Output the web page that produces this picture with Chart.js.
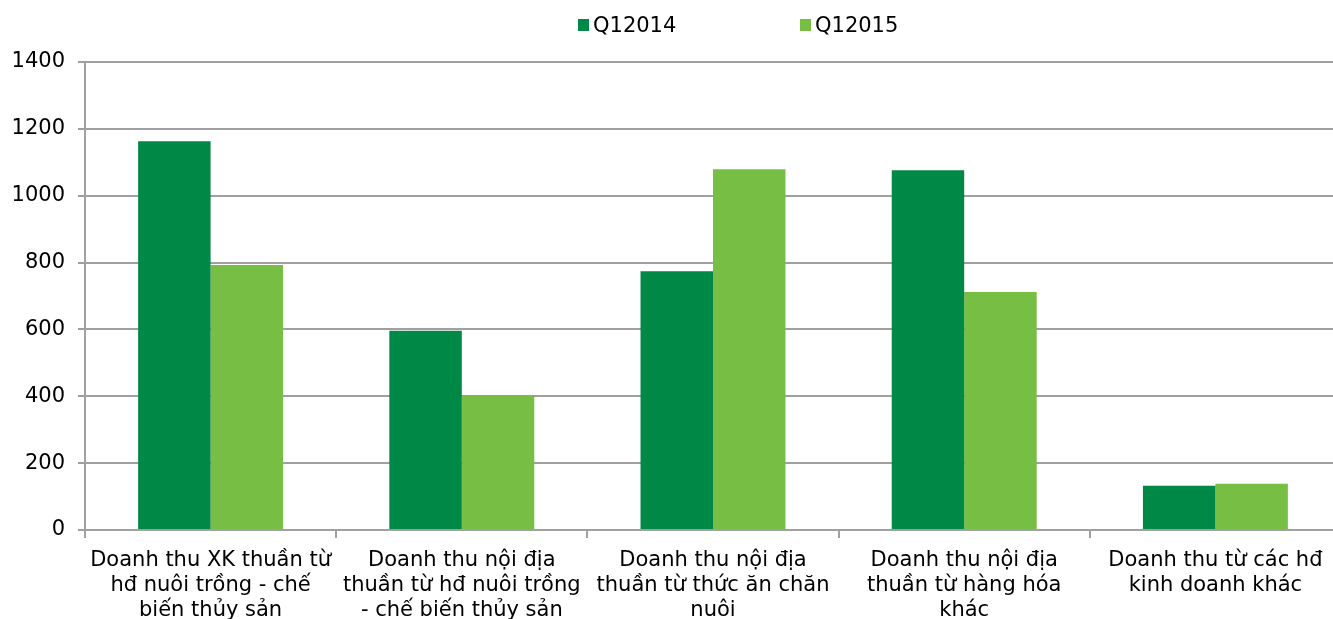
<!DOCTYPE html>
<html>
<head>
<meta charset="utf-8">
<script src="https://cdn.jsdelivr.net/npm/chart.js@4/dist/chart.umd.min.js"></script>
<style>
  html, body { margin: 0; padding: 0; background: #fff; overflow: hidden; width: 1333px; height: 619px; }
  canvas { display: block; }
</style>
</head>
<body>
<canvas id="c" width="1341" height="619"></canvas>
<script>
const categories = [
  ["Doanh thu XK thuần từ", "hđ nuôi trồng - chế", "biến thủy sản"],
  ["Doanh thu nội địa", "thuần từ hđ nuôi trồng", "- chế biến thủy sản"],
  ["Doanh thu nội địa", "thuần từ thức ăn chăn", "nuôi"],
  ["Doanh thu nội địa", "thuần từ hàng hóa", "khác"],
  ["Doanh thu từ các hđ", "kinh doanh khác"]
];
const seriesNames = ["Q12014", "Q12015"];
const q12014 = [1163, 596, 774, 1076, 132];
const q12015 = [793, 403, 1079, 712, 138];
const yMin = 0, yMax = 1400, yStep = 200;

const FONT = { family: '"DejaVu Sans", Verdana, sans-serif', size: 21, lineHeight: 1.2 };
const GRID = '#a0a0a0';

const legendPlugin = {
  id: 'topLegend',
  afterDraw(chart) {
    const ctx = chart.ctx;
    ctx.save();
    ctx.font = FONT.size + 'px ' + FONT.family;
    ctx.textBaseline = 'middle';
    ctx.textAlign = 'left';
    const starts = [578, 800];
    chart.data.datasets.forEach((ds, i) => {
      const x = starts[i];
      ctx.fillStyle = ds.backgroundColor;
      ctx.fillRect(x, 19, 11, 12);
      ctx.fillStyle = '#000';
      ctx.fillText(ds.label, x + 15, 27);
    });
    ctx.restore();
  }
};

new Chart(document.getElementById('c'), {
  type: 'bar',
  data: {
    labels: categories,
    datasets: [
      { label: seriesNames[0], data: q12014, backgroundColor: '#008847', categoryPercentage: 0.577, barPercentage: 1.0 },
      { label: seriesNames[1], data: q12015, backgroundColor: '#76bf44', categoryPercentage: 0.577, barPercentage: 1.0 }
    ]
  },
  options: {
    responsive: false,
    animation: false,
    layout: { padding: { top: 62, right: 0, bottom: 0, left: 0 } },
    plugins: { legend: { display: false }, tooltip: { enabled: false } },
    scales: {
      x: {
        grid: { drawOnChartArea: false, drawTicks: true, tickLength: 8, color: GRID, lineWidth: 2, offset: true },
        border: { color: GRID, width: 2 },
        ticks: { font: FONT, color: '#000', maxRotation: 0, minRotation: 0, autoSkip: false, padding: 10 },
        afterFit(s) { s.height = 89; }
      },
      y: {
        min: yMin, max: yMax,
        ticks: { stepSize: yStep, font: FONT, color: '#000', padding: 13, callback: (v) => String(v) },
        grid: { color: GRID, lineWidth: 2, tickLength: 7 },
        border: { color: GRID, width: 2 },
        afterFit(s) { s.width = 85; }
      }
    }
  },
  plugins: [legendPlugin]
});
</script>
</body>
</html>
